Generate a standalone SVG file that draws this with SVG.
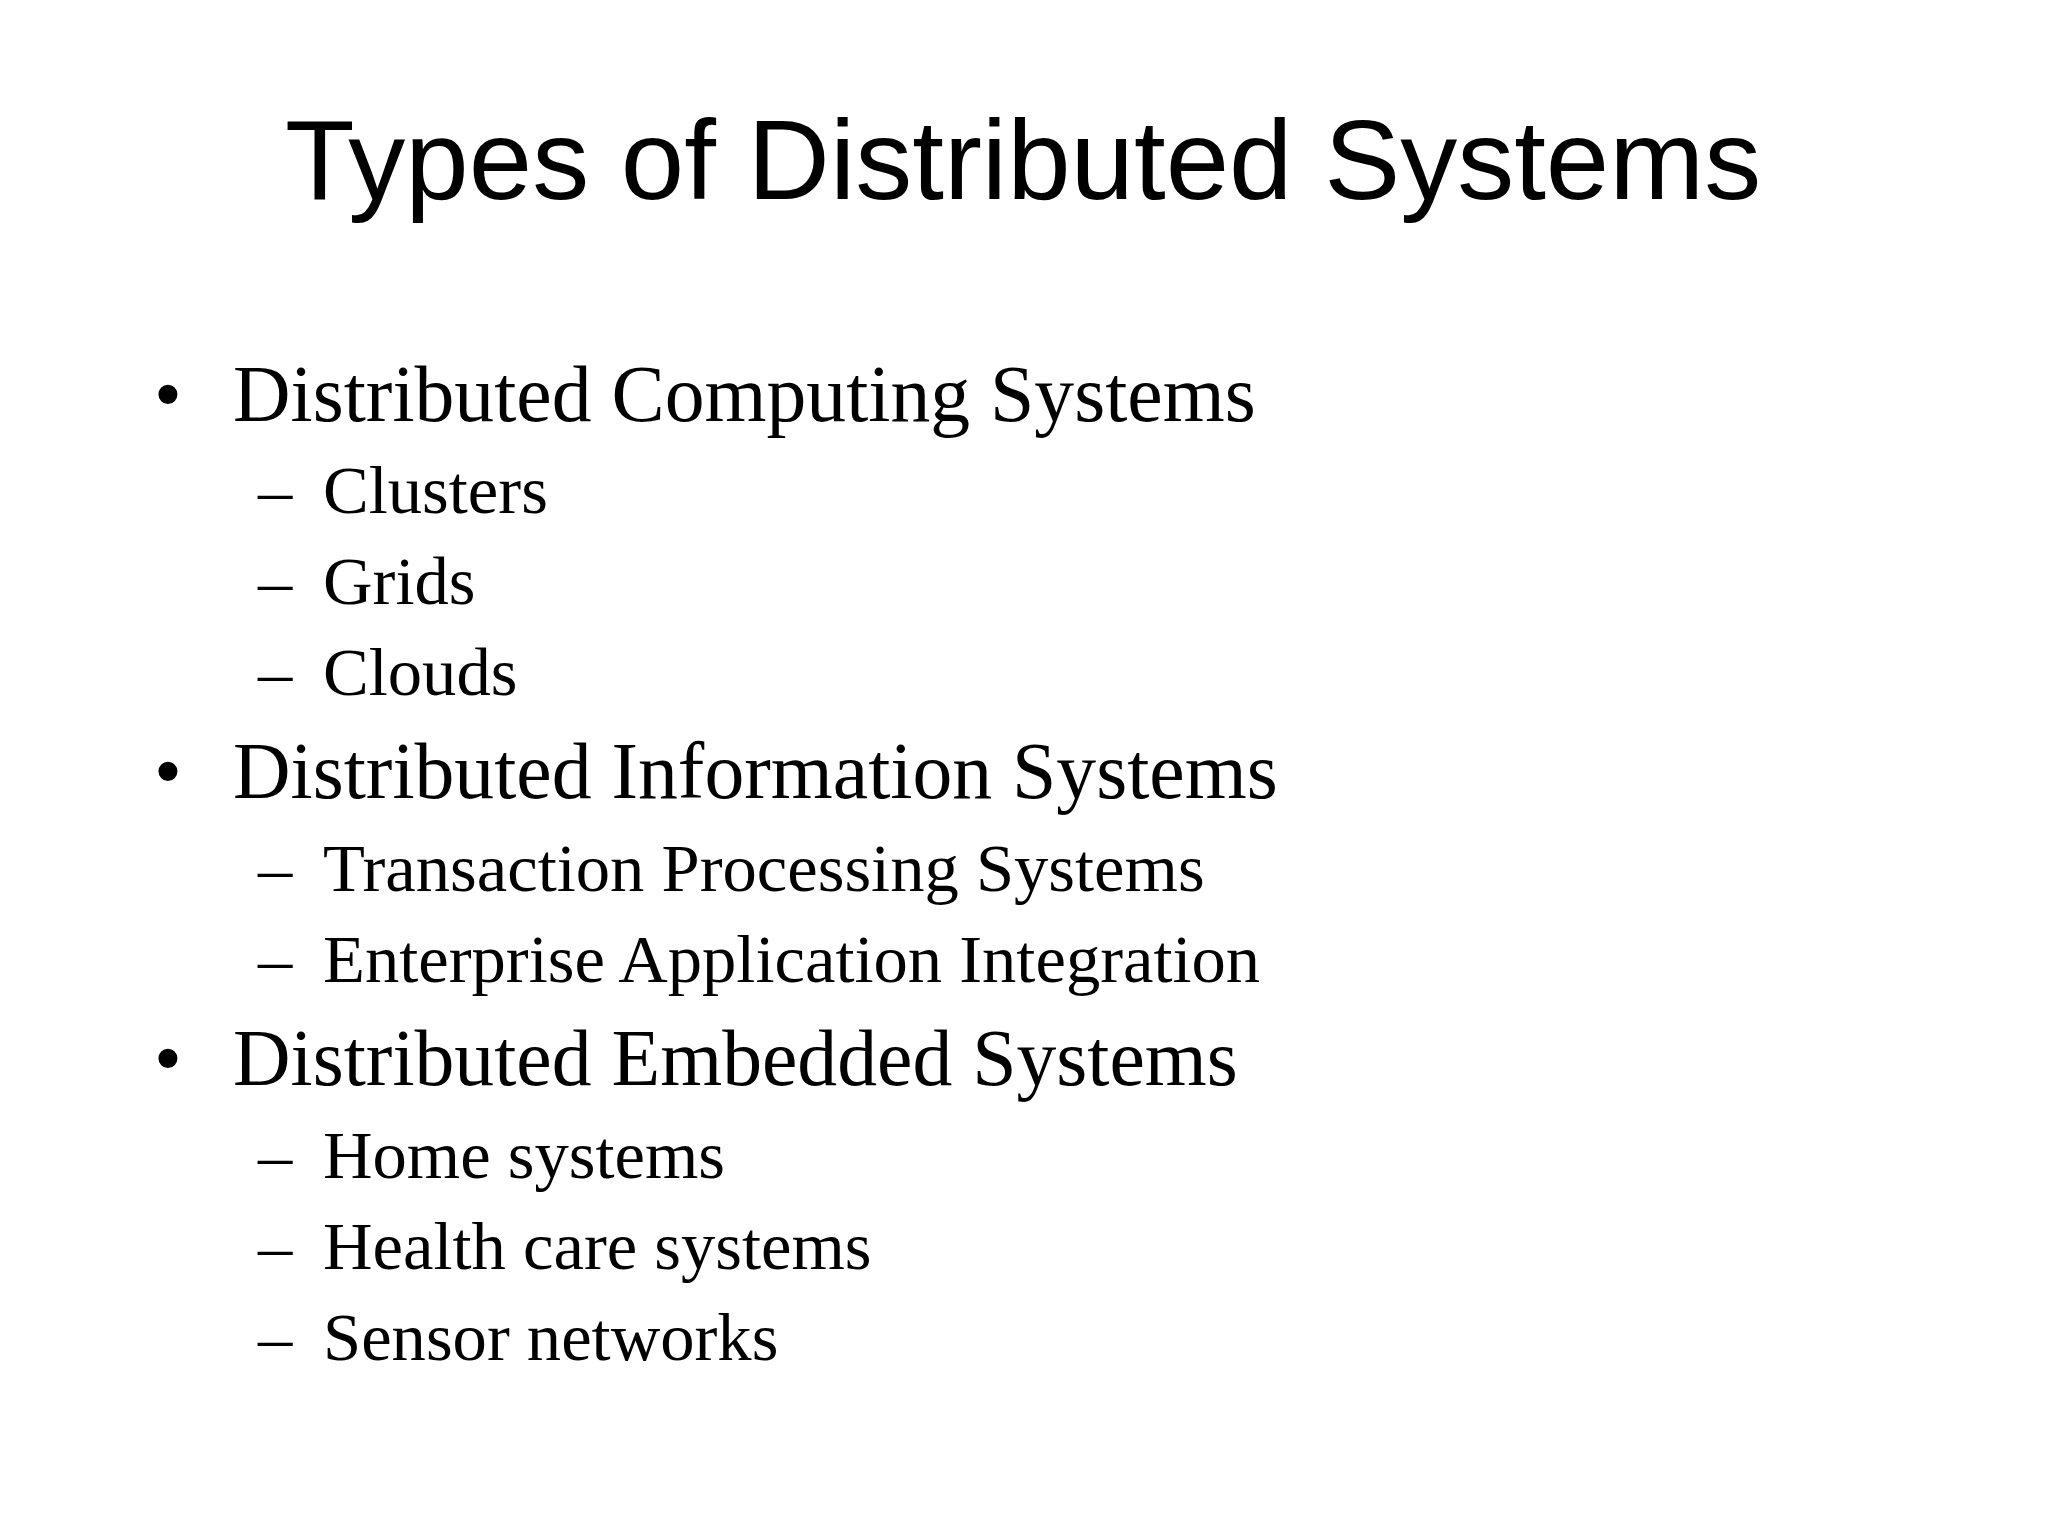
<svg xmlns="http://www.w3.org/2000/svg" width="2048" height="1536" viewBox="0 0 2048 1536">
<style>
.title{font-family:"Liberation Sans",Arial,sans-serif;font-size:114px;fill:#000}
.l1{font-family:"Liberation Serif","Times New Roman",serif;font-size:79.7px;fill:#000}
.l2{font-family:"Liberation Serif","Times New Roman",serif;font-size:68.6px;fill:#000}
</style>
<rect x="0" y="0" width="2048" height="1536" fill="#fff"/>
<g id="title"><text class="title" x="285" y="199">Types of Distributed Systems</text></g>
<g id="item-computing">
<text class="l1" x="154" y="421">•</text><text class="l1" x="233" y="421">Distributed Computing Systems</text>
<text class="l2" x="258" y="513">–</text><text class="l2" x="323" y="513">Clusters</text>
<text class="l2" x="258" y="604">–</text><text class="l2" x="323" y="604">Grids</text>
<text class="l2" x="258" y="695">–</text><text class="l2" x="323" y="695">Clouds</text>
</g>
<g id="item-information">
<text class="l1" x="154" y="798">•</text><text class="l1" x="233" y="798">Distributed Information Systems</text>
<text class="l2" x="258" y="891">–</text><text class="l2" x="323" y="891">Transaction Processing Systems</text>
<text class="l2" x="258" y="982">–</text><text class="l2" x="323" y="982">Enterprise Application Integration</text>
</g>
<g id="item-embedded">
<text class="l1" x="154" y="1085">•</text><text class="l1" x="233" y="1085">Distributed Embedded Systems</text>
<text class="l2" x="258" y="1178">–</text><text class="l2" x="323" y="1178">Home systems</text>
<text class="l2" x="258" y="1269">–</text><text class="l2" x="323" y="1269">Health care systems</text>
<text class="l2" x="258" y="1360">–</text><text class="l2" x="323" y="1360">Sensor networks</text>
</g>
</svg>
